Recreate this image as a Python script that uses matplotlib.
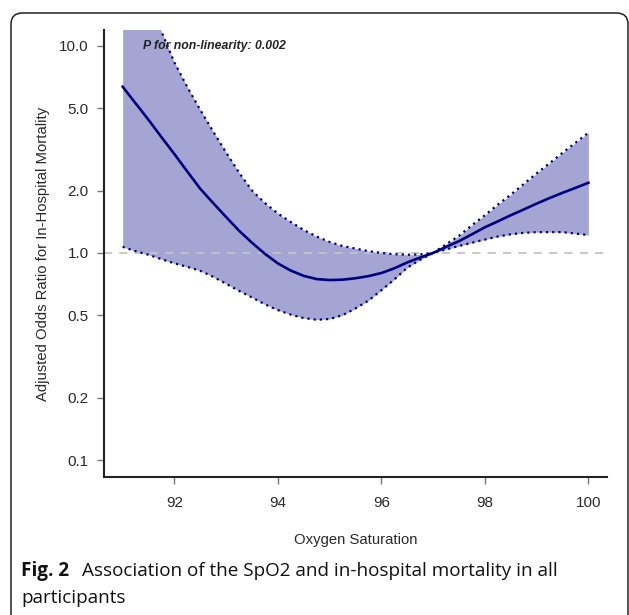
import numpy as np
import matplotlib
matplotlib.use('Agg')
import matplotlib.pyplot as plt
from matplotlib.patches import FancyBboxPatch

# ---------------------------------------------------------------------------
# values: adjusted OR (spline) vs oxygen saturation
# ---------------------------------------------------------------------------
spo2 = [91.0, 91.25, 91.5, 91.75, 92.0, 92.25, 92.5, 92.75, 93.0, 93.25,
        93.5, 93.75, 94.0, 94.25, 94.5, 94.75, 95.0, 95.25, 95.5, 95.75,
        96.0, 96.25, 96.5, 96.75, 97.0, 97.25, 97.5, 97.75, 98.0, 98.25,
        98.5, 98.75, 99.0, 99.25, 99.5, 99.75, 100.0]
or_est = [6.34, 5.27, 4.39, 3.62, 3.00, 2.47, 2.04, 1.74, 1.49, 1.28,
          1.12, 0.99, 0.89, 0.822, 0.775, 0.748, 0.740, 0.743, 0.755, 0.773,
          0.800, 0.843, 0.900, 0.950, 1.00, 1.07, 1.14, 1.23, 1.33, 1.42,
          1.52, 1.62, 1.73, 1.84, 1.95, 2.06, 2.18]
or_upper = [41.7, 25.1, 16.6, 11.7, 8.30, 6.31, 4.90, 3.85, 3.05, 2.44,
            2.00, 1.74, 1.55, 1.41, 1.29, 1.20, 1.13, 1.08, 1.05, 1.02,
            1.00, 0.986, 0.980, 0.984, 1.00, 1.10, 1.21, 1.36, 1.52, 1.71,
            1.91, 2.15, 2.42, 2.71, 3.04, 3.40, 3.80]
or_lower = [1.07, 1.02, 0.98, 0.933, 0.891, 0.857, 0.820, 0.767, 0.710, 0.656,
            0.610, 0.565, 0.530, 0.504, 0.485, 0.476, 0.480, 0.501, 0.540, 0.589,
            0.661, 0.745, 0.849, 0.927, 1.00, 1.04, 1.08, 1.12, 1.16, 1.20,
            1.23, 1.25, 1.26, 1.26, 1.26, 1.24, 1.22]

x_ticks = [92, 94, 96, 98, 100]
y_ticks = [0.1, 0.2, 0.5, 1.0, 2.0, 5.0, 10.0]
y_tick_labels = ['0.1', '0.2', '0.5', '1.0', '2.0', '5.0', '10.0']

p_text = 'P for non-linearity: 0.002'
x_label = 'Oxygen Saturation'
y_label = 'Adjusted Odds Ratio for In-Hospital Mortality'
caption_bold = 'Fig. 2'
caption_line1 = 'Association of the SpO2 and in-hospital mortality in all'
caption_line2 = 'participants'

NAVY = '#000080'
BAND = '#a5a5d3'
INK = '#2a2a2a'

# ---------------------------------------------------------------------------
W, H = 629, 615
fig = plt.figure(figsize=(W / 100, H / 100), dpi=100)
fig.patch.set_facecolor('white')

# panel frame, rounded, running off the bottom edge
frame = FancyBboxPatch((11 / W, -0.05), (628 - 11) / W, 1.05 - 13 / H,
                       boxstyle='round,pad=0,rounding_size=0.018',
                       transform=fig.transFigure, facecolor='none',
                       edgecolor='#222222', lw=1.1, clip_on=False)
fig.patches.append(frame)

ax = fig.add_axes([104 / W, 1 - 477 / H, (607 - 104) / W, (477 - 30) / H])
ax.set_yscale('log')

ax.fill_between(spo2, or_lower, or_upper, color=BAND, lw=0, zorder=1)
ax.axhline(1.0, color='#c4c4c4', lw=1.3, ls=(0, (4.5, 4)), zorder=2)
ax.plot(spo2, or_upper, color=NAVY, lw=1.6, ls=(0, (1, 1.8)), zorder=3)
ax.plot(spo2, or_lower, color=NAVY, lw=1.6, ls=(0, (1, 1.8)), zorder=3)
ax.plot(spo2, or_est, color=NAVY, lw=1.9, zorder=4)

ax.text(91.4, 10.0, p_text, fontsize=8.8, fontweight='bold', fontstyle='italic',
        family='Liberation Sans', color='#222222', ha='left', va='center', zorder=5)

ax.set_xlim(90.64, 100.36)
ax.set_ylim(0.083, 11.9)
ax.set_xticks(x_ticks)
ax.set_xticklabels([str(t) for t in x_ticks])
ax.set_yticks(y_ticks)
ax.set_yticklabels(y_tick_labels)
ax.minorticks_off()

for side in ['top', 'right']:
    ax.spines[side].set_visible(False)
for side in ['left', 'bottom']:
    ax.spines[side].set_color('#222222')
    ax.spines[side].set_linewidth(1.5)

ax.tick_params(axis='both', direction='out', length=5, width=1, color='#777777',
               labelcolor=INK, labelsize=11)
ax.tick_params(axis='x', pad=8.5)
ax.tick_params(axis='y', pad=6)
for lab in ax.get_xticklabels() + ax.get_yticklabels():
    lab.set_family('Liberation Sans')

fig.text(355.5 / W, 1 - 540 / H, x_label, family='Liberation Sans', fontsize=10.7,
         color=INK, ha='center', va='center')
fig.text(43 / W, 1 - 253.5 / H, y_label, family='Liberation Sans', fontsize=10.7,
         color=INK, ha='center', va='center', rotation=90)

# caption
cap_x = 21 / W
t_bold = fig.text(cap_x, 1 - 571 / H, caption_bold, family='Open Sans', fontsize=13.6,
                  fontweight='bold', color='#111111', ha='left', va='center')
fig.canvas.draw()
bb = t_bold.get_window_extent()
fig.text((bb.x1 + 13) / W, 1 - 571 / H, caption_line1, family='Open Sans',
         fontsize=13.6, color='#111111', ha='left', va='center')
fig.text(cap_x, 1 - 598 / H, caption_line2, family='Open Sans', fontsize=13.6,
         color='#111111', ha='left', va='center')

fig.savefig('out.png', dpi=100)
